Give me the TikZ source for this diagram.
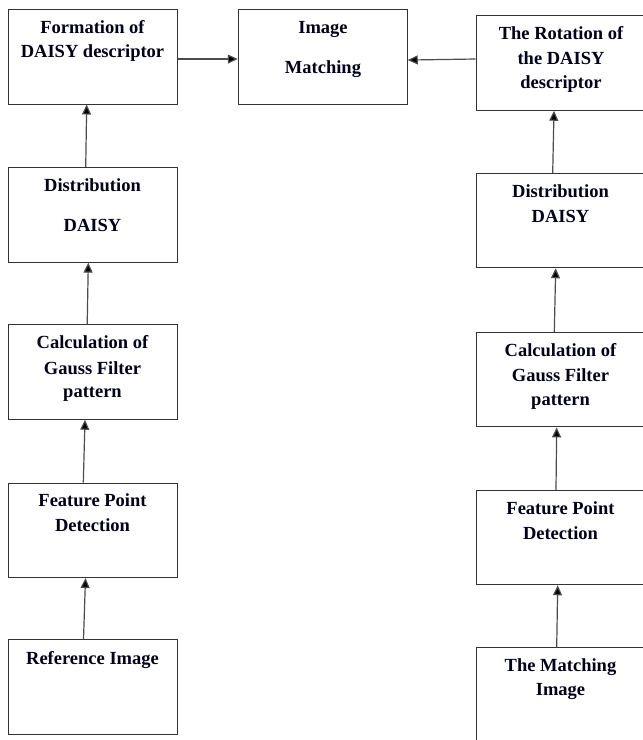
\documentclass[tikz,border=0pt]{standalone}
\usepackage{fontspec}
\setmainfont{Liberation Serif}
\usetikzlibrary{arrows.meta}
\begin{document}
\begin{tikzpicture}[x=1pt,y=-1pt,
  box/.style={draw=black!80,line width=1pt,minimum width=169pt,minimum height=94.5pt,inner sep=0pt},
  txt/.style={anchor=base,inner sep=0pt,font=\fontsize{18.5}{22}\selectfont\bfseries,text=black!90!blue},
  conn/.style={draw=black!70,line width=1.2pt,-{Triangle[length=10pt,width=9pt,fill=black]}}]
\clip (0,0) rectangle (643,740);
\useasboundingbox (0,0) rectangle (643,740);
% left column
\node[box] (L1) at (93,56.75) {};
\node[box] (L2) at (93,214.9) {};
\node[box] (L3) at (93,372) {};
\node[box] (L4) at (93,530.3) {};
\node[box] (L5) at (93,687.2) {};
% middle
\node[box] (M) at (322.75,56.75) {};
% right column
\node[box] (R1) at (560.5,63) {};
\node[box] (R2) at (560.5,220.5) {};
\node[box] (R3) at (560.5,379.7) {};
\node[box] (R4) at (560.5,537.5) {};
\node[box] (R5) at (560.5,695) {};
% texts
\node[txt] (t1a) at (92.5,33) {Formation of};
\node[txt] (t1b) at (92.5,57.5) {DAISY descriptor};
\node[txt] (t2a) at (92.5,191.7) {Distribution};
\node[txt] (t2b) at (92.5,231.7) {DAISY};
\node[txt] (t3a) at (92.5,348.3) {Calculation of};
\node[txt] (t3b) at (92.5,374) {Gauss Filter};
\node[txt] (t3c) at (92.5,397.5) {pattern};
\node[txt] (t4a) at (92.5,506.7) {Feature Point};
\node[txt] (t4b) at (92.5,531) {Detection};
\node[txt] (t5a) at (92.5,664) {Reference Image};
\node[txt] (tma) at (323,33) {Image};
\node[txt] (tmb) at (323,73) {Matching};
\node[txt] (r1a) at (561,39) {The Rotation of};
\node[txt] (r1b) at (561,64.5) {the DAISY};
\node[txt] (r1c) at (561,88.5) {descriptor};
\node[txt] (r2a) at (560.5,197.7) {Distribution};
\node[txt] (r2b) at (560.5,222.7) {DAISY};
\node[txt] (r3a) at (560.5,356) {Calculation of};
\node[txt] (r3b) at (560.5,381.7) {Gauss Filter};
\node[txt] (r3c) at (560.5,405.5) {pattern};
\node[txt] (r4a) at (560.5,514) {Feature Point};
\node[txt] (r4b) at (560.5,539.3) {Detection};
\node[txt] (r5a) at (560.5,671) {The Matching};
\node[txt] (r5b) at (560.5,695) {Image};
% connectors left
\draw[conn] ([xshift=-9.5pt]L5.north) -- ([xshift=-7.5pt]L4.south);
\draw[conn] ([xshift=-9.7pt]L4.north) -- ([xshift=-8pt]L3.south);
\draw[conn] ([xshift=-5.8pt]L3.north) -- ([xshift=-4.7pt]L2.south);
\draw[conn] ([xshift=-7.3pt]L2.north) -- ([xshift=-6.3pt]L1.south);
% connectors right
\draw[conn] ([xshift=-3.8pt]R5.north) -- ([xshift=-2.8pt]R4.south);
\draw[conn] ([xshift=-4.5pt]R4.north) -- ([xshift=-3.8pt]R3.south);
\draw[conn] ([xshift=-6.2pt]R3.north) -- ([xshift=-4.8pt]R2.south);
\draw[conn] ([xshift=-7.8pt]R2.north) -- ([xshift=-6.5pt]R1.south);
% horizontal
\draw[conn] ([yshift=-2.3pt]L1.east) -- ([yshift=-2.3pt]M.west);
\draw[conn] ([yshift=4pt]R1.west) -- ([yshift=-3.3pt]M.east);
\end{tikzpicture}
\end{document}
